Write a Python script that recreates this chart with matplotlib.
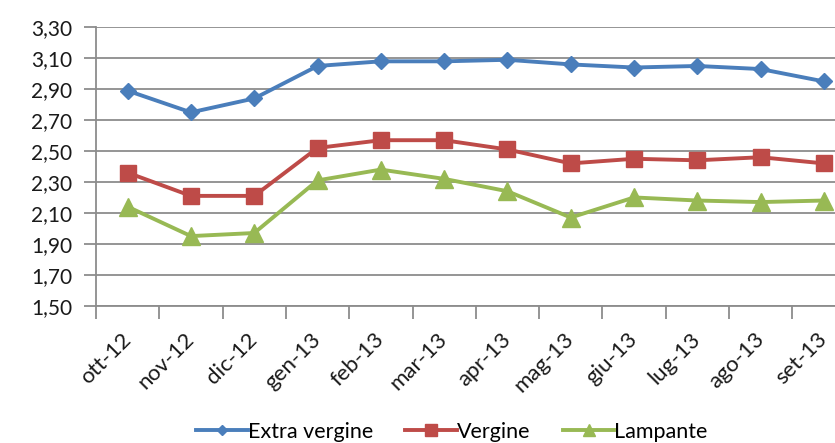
import matplotlib
matplotlib.use("Agg")
import matplotlib.pyplot as plt
from matplotlib.ticker import FuncFormatter

plt.rcParams['font.family'] = ['Lato', 'DejaVu Sans']

months = ["ott-12", "nov-12", "dic-12", "gen-13", "feb-13", "mar-13",
          "apr-13", "mag-13", "giu-13", "lug-13", "ago-13", "set-13"]
extra_vergine = [2.89, 2.75, 2.84, 3.05, 3.08, 3.08, 3.09, 3.06, 3.04, 3.05, 3.03, 2.95]
vergine = [2.36, 2.21, 2.21, 2.52, 2.57, 2.57, 2.51, 2.42, 2.45, 2.44, 2.46, 2.42]
lampante = [2.14, 1.95, 1.97, 2.31, 2.38, 2.32, 2.24, 2.07, 2.20, 2.18, 2.17, 2.18]
y_ticks = [1.50, 1.70, 1.90, 2.10, 2.30, 2.50, 2.70, 2.90, 3.10, 3.30]

W, H = 835, 443
fig = plt.figure(figsize=(W / 100, H / 100), dpi=100)
fig.patch.set_facecolor("white")

left, right, top, bottom = 96, 855.6, 27.3, 305.7
ax = fig.add_axes([left / W, 1 - bottom / H, (right - left) / W, (bottom - top) / H])

x = list(range(len(months)))
series = [
    (extra_vergine, "Extra vergine", "#4A7EBB", "D", 8.0),
    (vergine, "Vergine", "#BE4B48", "s", 12.0),
    (lampante, "Lampante", "#98B954", "^", 12.5),
]
for vals, name, col, mk, ms in series:
    ax.plot(x, vals, color=col, lw=2.8, marker=mk, markersize=ms,
            markerfacecolor=col, markeredgecolor=col, label=name, zorder=3,
            clip_on=False)

ax.set_xlim(-0.5, len(months) - 0.5)
ax.set_ylim(y_ticks[0], y_ticks[-1])
ax.set_yticks(y_ticks)
ax.yaxis.set_major_formatter(FuncFormatter(lambda v, p: f"{v:.2f}".replace(".", ",")))
ax.grid(axis="y", color="#8C8C8C", lw=1.3, zorder=0)
ax.set_axisbelow(True)

for s in ["top", "right"]:
    ax.spines[s].set_visible(False)
for s in ["left", "bottom"]:
    ax.spines[s].set_color("#8C8C8C")
    ax.spines[s].set_linewidth(1.3)

# category ticks sit between months, labels at month centres
ax.set_xticks([i - 0.5 for i in range(len(months) + 1)])
ax.set_xticklabels([])
ax.set_xticks(x, minor=True)
ax.set_xticklabels(months, minor=True, rotation=45, ha="right", va="center",
                   rotation_mode="anchor", fontsize=16, color="#1a1a1a")
ax.tick_params(axis="x", which="minor", length=0, pad=22)
ax.tick_params(axis="x", which="major", length=9, color="#8C8C8C", width=1.3)
ax.tick_params(axis="y", length=9, color="#8C8C8C", width=1.3, pad=8,
               labelsize=15, labelcolor="#1a1a1a")

fig.legend(loc="center", bbox_to_anchor=(452 / W, 1 - 432 / H), ncol=3,
           frameon=False, fontsize=15.5, handlelength=2.4, handletextpad=0.0,
           columnspacing=1.5, markerscale=0.7)

fig.savefig("out.png", dpi=100, facecolor="white")
